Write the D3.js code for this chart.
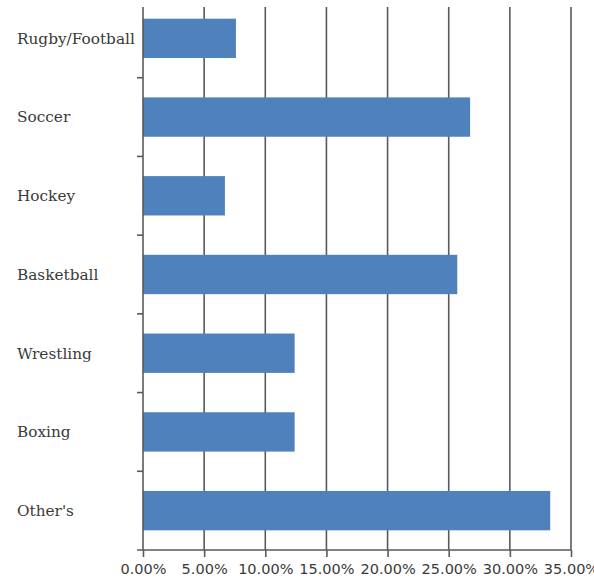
<!DOCTYPE html>
<html>
<head>
<meta charset="utf-8">
<script src="https://cdn.jsdelivr.net/npm/d3@7"></script>
<style>
  body { margin: 0; background: #fff; overflow: hidden; }
  svg { display: block; }
</style>
</head>
<body>
<script>
// data
var sports = ["Rugby/Football", "Soccer", "Hockey", "Basketball", "Wrestling", "Boxing", "Other's"];
var shares = [7.6, 26.75, 6.7, 25.7, 12.4, 12.4, 33.3];
var xTicks = [0, 5, 10, 15, 20, 25, 30, 35];

var width = 594, height = 579;
var plotLeft = 143, plotRight = 571, plotTop = -1, plotBottom = 550;
var barColor = "#4f81bd";
var lineColor = "#5a5a5a";

var svg = d3.select("body")
        .append("svg")
        .attr("width", width)
        .attr("height", height);

var x = d3.scaleLinear()
        .domain([0, 35])
        .range([plotLeft, plotRight]);

var y = d3.scaleBand()
        .domain(sports)
        .range([plotTop, plotBottom])
        .paddingInner(0.5)
        .paddingOuter(0.25);

var bandStep = (plotBottom - plotTop) / sports.length;

// vertical gridlines
svg.selectAll("line.grid")
        .data(xTicks.slice(1))
        .enter()
        .append("line")
        .attr("class", "grid")
        .attr("x1", function(d) { return x(d); })
        .attr("x2", function(d) { return x(d); })
        .attr("y1", 7)
        .attr("y2", plotBottom)
        .attr("stroke", lineColor)
        .attr("stroke-width", 1.6);

// bars
svg.selectAll("rect.bar")
        .data(shares)
        .enter()
        .append("rect")
        .attr("class", "bar")
        .attr("x", x(0))
        .attr("y", function(d, i) { return y(sports[i]); })
        .attr("width", function(d) { return x(d) - x(0); })
        .attr("height", y.bandwidth())
        .attr("fill", barColor);

// x axis
var xAxis = d3.axisBottom(x)
        .tickValues(xTicks)
        .tickSize(7)
        .tickSizeOuter(0)
        .tickFormat(function(d) { return d3.format(".2f")(d) + "%"; });

var gx = svg.append("g")
        .attr("transform", "translate(0," + plotBottom + ")")
        .call(xAxis);

gx.select(".domain").attr("stroke", lineColor).attr("stroke-width", 1.6)
        .attr("d", "M" + (plotLeft - 6) + ",0H" + plotRight);
gx.selectAll(".tick line").attr("stroke", lineColor).attr("stroke-width", 1.6);
gx.selectAll(".tick text")
        .attr("y", 14)
        .attr("fill", "#3a3a3a")
        .style("font-family", "'DejaVu Sans', sans-serif")
        .style("font-size", "14.5px");

// y axis line and separators between categories
svg.append("line")
        .attr("x1", plotLeft).attr("x2", plotLeft)
        .attr("y1", 7).attr("y2", plotBottom)
        .attr("stroke", lineColor)
        .attr("stroke-width", 1.6);

svg.selectAll("line.ytick")
        .data(d3.range(1, sports.length))
        .enter()
        .append("line")
        .attr("class", "ytick")
        .attr("x1", plotLeft - 6).attr("x2", plotLeft)
        .attr("y1", function(i) { return plotTop + i * bandStep; })
        .attr("y2", function(i) { return plotTop + i * bandStep; })
        .attr("stroke", lineColor)
        .attr("stroke-width", 1.6);

// category labels
svg.selectAll("text.cat")
        .data(sports)
        .enter()
        .append("text")
        .attr("class", "cat")
        .attr("x", 17)
        .attr("y", function(d) { return y(d) + y.bandwidth() / 2; })
        .attr("dy", "0.35em")
        .attr("fill", "#3a3a3a")
        .style("font-family", "'DejaVu Serif', serif")
        .style("font-size", "15.3px")
        .text(function(d) { return d; });
</script>
</body>
</html>
